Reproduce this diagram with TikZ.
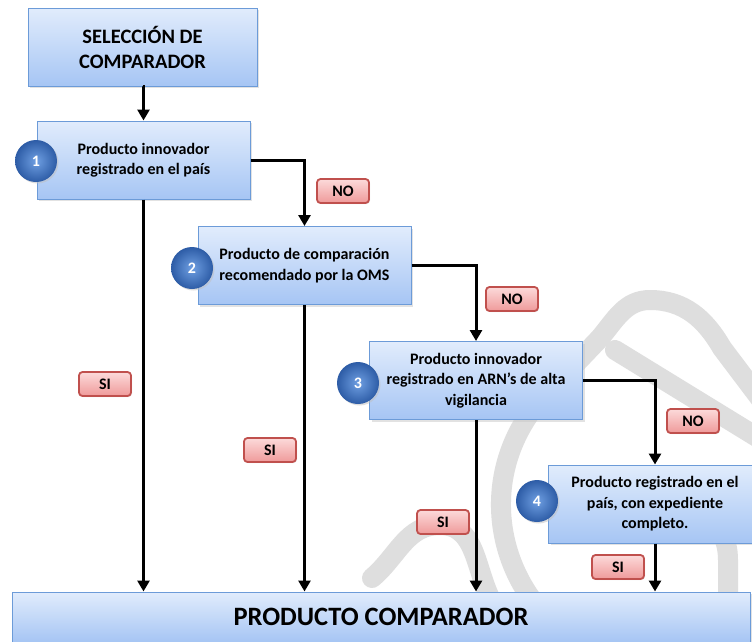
\documentclass[tikz,border=0pt]{standalone}
\usepackage{fontspec}
\setmainfont{Carlito}
\usetikzlibrary{arrows.meta,shadows}
\definecolor{boxtop}{HTML}{E1ECFC}
\definecolor{boxbot}{HTML}{A6C5F4}
\definecolor{boxline}{HTML}{6C9BD8}
\definecolor{lbltop}{HTML}{FCDADA}
\definecolor{lblbot}{HTML}{EF9A9A}
\definecolor{lblline}{HTML}{C0504D}
\definecolor{ballin}{HTML}{6F9FE2}
\definecolor{ballout}{HTML}{2D5CA6}
\definecolor{wm}{HTML}{DEDEDE}
\tikzset{
  box/.style={draw=boxline, line width=1pt, top color=boxtop, bottom color=boxbot,
    minimum width=213pt, minimum height=78pt, align=center, inner sep=0pt,
    font=\bfseries\fontsize{16}{20.5}\selectfont,
    drop shadow={shadow xshift=2pt,shadow yshift=-2pt,fill=black!22}},
  lbl/.style={draw=lblline, line width=1.8pt, rounded corners=3.5pt, top color=lbltop,
    bottom color=lblbot, minimum width=52pt, minimum height=24pt, inner sep=0pt,
    font=\bfseries\fontsize{16}{18}\selectfont,
    drop shadow={shadow xshift=1pt,shadow yshift=-1pt,fill=black!18}},
  ball/.style={circle, minimum size=42pt, inner sep=0pt, shading=radial,
    inner color=ballin, outer color=ballout, text=white,
    font=\bfseries\fontsize{16}{18}\selectfont,
    drop shadow={shadow xshift=1.5pt,shadow yshift=-1.5pt,fill=black!25}},
  arr/.style={line width=3pt, -{Triangle[width=12pt,length=11pt]}},
  wmark/.style={draw=wm, line width=20pt, line cap=round}
}
\begin{document}
\begin{tikzpicture}[x=1pt,y=-1pt]
\useasboundingbox (0,0) rectangle (752,641);
\clip (0,0) rectangle (752,641);
\fill[white] (0,0) rectangle (752,641);
% watermark
\draw[wmark] (540,610) .. controls (485,545) and (485,445) .. (560,380) -- (600,338)
  to[out=50,in=180] (650,300) to[out=0,in=120] (722,348) -- (765,405);
\draw[wmark] (615,350) -- (765,442);
\draw[wmark] (372,578) to[out=40,in=180] (440,525) to[out=0,in=125] (497,610);
\draw[wmark] (700,515) to[out=-20,in=90] (728,560) -- (728,610);
% boxes
\node[box, minimum width=229pt, font=\bfseries\fontsize{20.5}{25}\selectfont] (top) at (142.5,47) {SELECCIÓN DE\\COMPARADOR};
\node[box] (b1) at (143.5,160) {Producto innovador\\registrado en el país};
\node[box] (b2) at (304.5,265.5) {Producto de comparación\\recomendado por la OMS};
\node[box] (b3) at (476,380.5) {Producto innovador\\registrado en ARN's de alta\\vigilancia};
\node[box] (b4) at (655,504) {Producto registrado en el\\país, con expediente\\completo.};
\node[box, minimum width=738pt, minimum height=50pt, font=\bfseries\fontsize{26.5}{30}\selectfont] (bot) at (381,617) {PRODUCTO COMPARADOR};
% connectors
\draw[arr] (top.south) -- (top.south -| b1.north) -- (b1.north);
\draw[arr] (b1.east) -| (b2.north);
\draw[arr] (b2.east) -| (b3.north);
\draw[arr] (b3.east) -| (b4.north);
\draw[arr] (b1.south) -- (b1.south |- bot.north);
\draw[arr] (b2.south) -- (b2.south |- bot.north);
\draw[arr] (b3.south) -- (b3.south |- bot.north);
\draw[arr] (b4.south) -- (b4.south |- bot.north);
% balls
\node[ball] (n1) at (36,161) {1};
\node[ball] (n2) at (192,268) {2};
\node[ball] (n3) at (358,383) {3};
\node[ball] (n4) at (537,501) {4};
% labels
\node[lbl] (no1) at (343,191) {NO};
\node[lbl] (no2) at (512,299) {NO};
\node[lbl] (no3) at (693,421) {NO};
\node[lbl] (si1) at (105,384) {SI};
\node[lbl] (si2) at (270,450) {SI};
\node[lbl] (si3) at (443,522) {SI};
\node[lbl] (si4) at (618,567) {SI};
\end{tikzpicture}
\end{document}
